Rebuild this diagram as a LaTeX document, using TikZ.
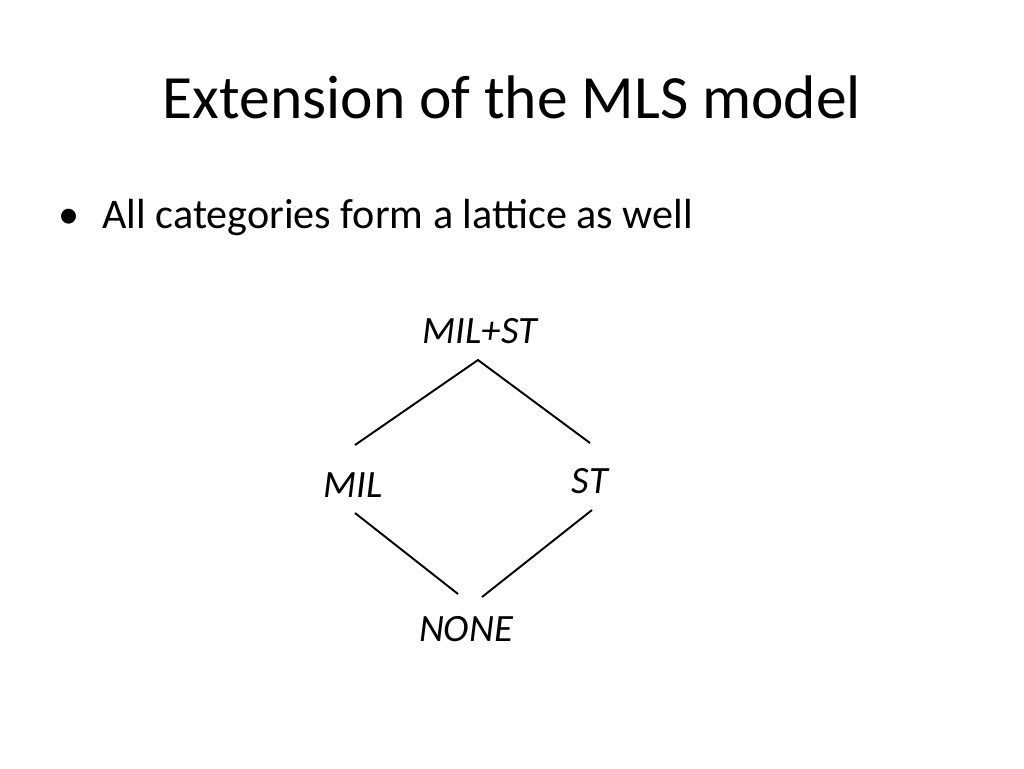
\documentclass[tikz,border=0pt]{standalone}
\usepackage{fontspec}
\setmainfont{Carlito}
\begin{document}
\begin{tikzpicture}[x=0.02cm,y=-0.02cm,
  lbl/.style={anchor=base,inner sep=0pt,font=\fontsize{22}{26}\selectfont\itshape},
  edge/.style={line width=1.1pt}]
\useasboundingbox[fill=white] (0,0) rectangle (1024,768);
\node[anchor=base,inner sep=0pt,font=\fontsize{35}{40}\selectfont] (title) at (512,118) {Extension of the MLS model};
\node[anchor=base west,inner sep=0pt,font=\fontsize{24}{28}\selectfont] (bul) at (58,228) {\textbullet\hspace{0.55em}All categories form a lattice as well};
\node[lbl] (top) at (480,343) {MIL+ST};
\node[lbl] (mil) at (353,497) {MIL};
\node[lbl] (st) at (590,493) {ST};
\node[lbl] (none) at (466,641) {NONE};
\coordinate (t) at (478,360);
\coordinate (ml1) at (355,445);
\coordinate (sr1) at (590,443);
\coordinate (ml2) at (355,513);
\coordinate (sr2) at (592,510);
\coordinate (n1) at (458,594);
\coordinate (n2) at (482,597);
\draw[edge] (ml1) -- (t) -- (sr1);
\draw[edge] (ml2) -- (n1);
\draw[edge] (n2) -- (sr2);
\end{tikzpicture}
\end{document}
